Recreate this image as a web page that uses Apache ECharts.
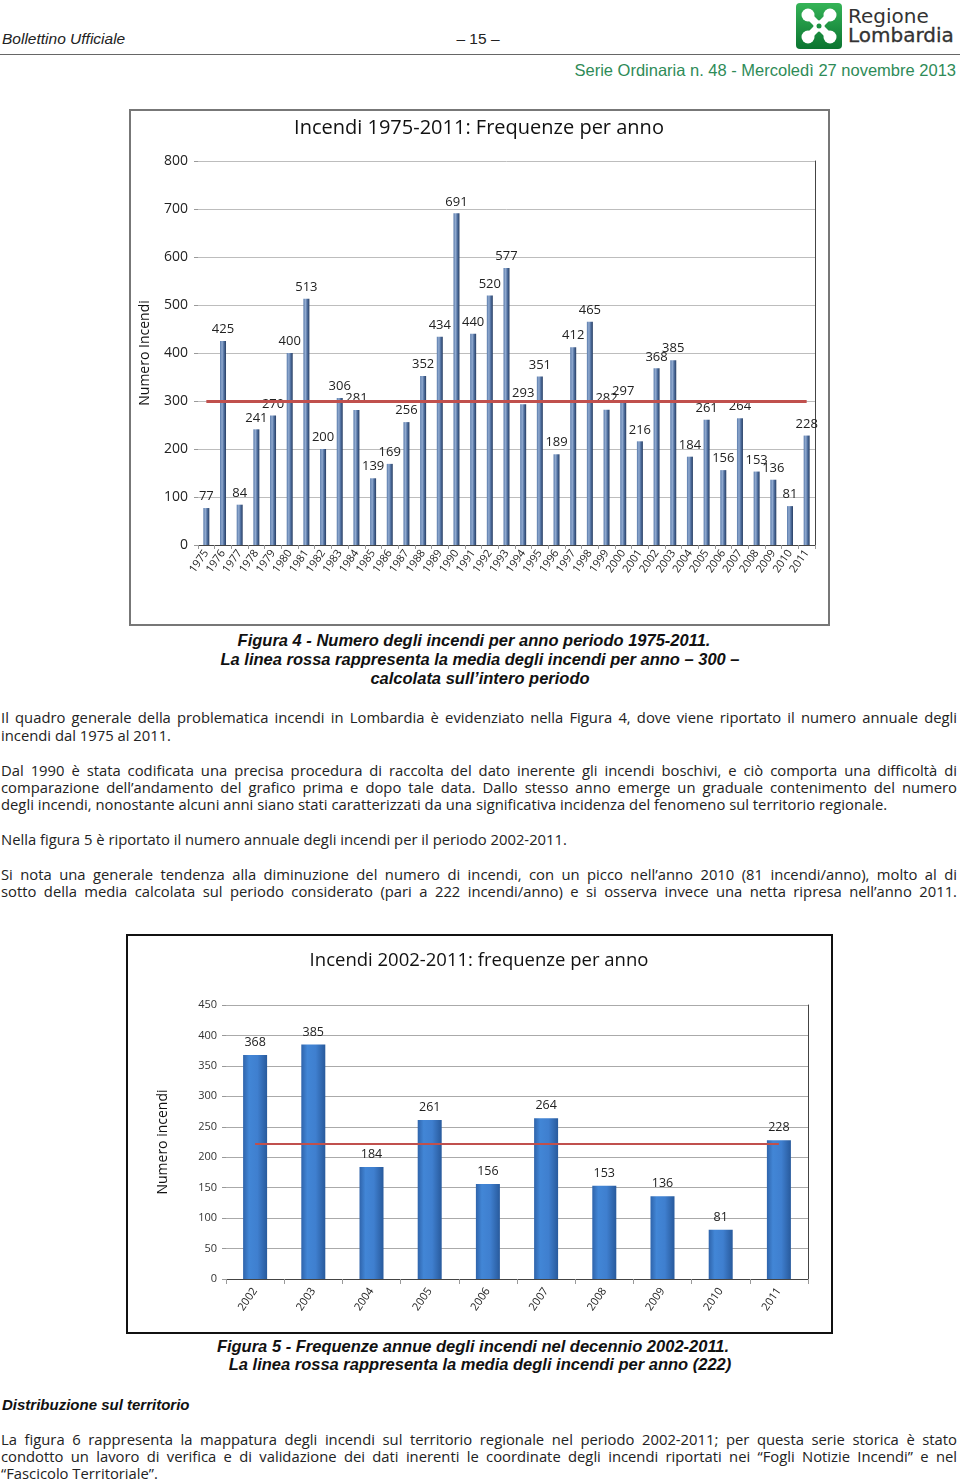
<!DOCTYPE html>
<html>
<head>
<meta charset="utf-8">
<script src="https://cdn.jsdelivr.net/npm/echarts@6/dist/echarts.min.js"></script>
<style>
  html, body { margin:0; padding:0; background:#fff; }
  #page { position:relative; width:960px; height:1481px; overflow:hidden; font-family:"Liberation Sans", Arial, sans-serif; color:#222; }
  .abs { position:absolute; white-space:nowrap; }
  .line { position:absolute; left:1px; width:956px; font-family:"Open Sans", "Liberation Sans", sans-serif; font-size:14.8px; line-height:17px; height:17px; color:#222; }
  .j { text-align:justify; text-align-last:justify; }
  .cap { position:absolute; left:0; width:960px; text-align:center; font-size:16.5px; line-height:18px; font-weight:bold; font-style:italic; color:#111; }
  .frame { position:absolute; box-sizing:border-box; pointer-events:none; }
</style>
</head>
<body>
<div id="page">
  <!-- header -->
  <div class="abs" style="left:2px;top:30px;font-size:15.5px;font-style:italic;color:#222;">Bollettino Ufficiale</div>
  <div class="abs" style="left:438px;width:80px;text-align:center;top:30px;font-size:15.5px;color:#222;">– 15 –</div>
  <svg style="position:absolute;left:795px;top:2px" width="48" height="48" viewBox="0 0 48 48">
    <defs>
      <linearGradient id="lg" x1="0" y1="0" x2="0" y2="1">
        <stop offset="0" stop-color="#35b457"/>
        <stop offset="1" stop-color="#0b7430"/>
      </linearGradient>
    </defs>
    <rect x="1" y="1" width="46" height="46" rx="4" fill="url(#lg)"/>
    <line x1="14" y1="14" x2="34" y2="34" stroke="#fff" stroke-width="7"/>
    <line x1="34" y1="14" x2="14" y2="34" stroke="#fff" stroke-width="7"/>
    <circle cx="13" cy="13" r="6.5" fill="#fff"/>
    <circle cx="35" cy="13" r="6.5" fill="#fff"/>
    <circle cx="13" cy="35" r="6.5" fill="#fff"/>
    <circle cx="35" cy="35" r="6.5" fill="#fff"/>
    <circle cx="24" cy="24" r="5.5" fill="#fff"/>
    <circle cx="24" cy="24" r="2.5" fill="#1a9040"/>
  </svg>
  <div class="abs" style="left:848px;top:5px;font-family:'DejaVu Sans',sans-serif;font-size:20px;line-height:22px;color:#333;">Regione</div>
  <div class="abs" style="left:848px;top:24px;font-family:'DejaVu Sans',sans-serif;font-size:20px;line-height:22px;color:#333;-webkit-text-stroke:0.3px #333;">Lombardia</div>
  <div style="position:absolute;left:0;top:54px;width:960px;height:1px;background:#666;"></div>
  <div class="abs" style="right:4px;top:61px;font-size:16.5px;color:#2e8b57;">Serie Ordinaria n. 48 - Mercoledì 27 novembre 2013</div>

  <!-- chart 1 -->
  <div id="chart1" style="position:absolute;left:129px;top:109px;width:700px;height:516px;"></div>
  <div class="frame" style="left:129px;top:109px;width:701px;height:517px;border:2px solid #777;"></div>

  <div class="cap" style="top:631px;left:-6px;">Figura 4 - Numero degli incendi per anno periodo 1975-2011.</div>
  <div class="cap" style="top:650px;">La linea rossa rappresenta la media degli incendi per anno – 300 –</div>
  <div class="cap" style="top:669px;">calcolata sull’intero periodo</div>

  <div class="line j" style="top:709px;">Il quadro generale della problematica incendi in Lombardia è evidenziato nella Figura 4, dove viene riportato il numero annuale degli</div>
  <div class="line" style="top:727px;">incendi dal 1975 al 2011.</div>

  <div class="line j" style="top:762px;">Dal 1990 è stata codificata una precisa procedura di raccolta del dato inerente gli incendi boschivi, e ciò comporta una difficoltà di</div>
  <div class="line j" style="top:779px;">comparazione dell’andamento del grafico prima e dopo tale data. Dallo stesso anno emerge un graduale contenimento del numero</div>
  <div class="line" style="top:796px;">degli incendi, nonostante alcuni anni siano stati caratterizzati da una significativa incidenza del fenomeno sul territorio regionale.</div>

  <div class="line" style="top:831px;">Nella figura 5 è riportato il numero annuale degli incendi per il periodo 2002-2011.</div>

  <div class="line j" style="top:866px;">Si nota una generale tendenza alla diminuzione del numero di incendi, con un picco nell’anno 2010 (81 incendi/anno), molto al di</div>
  <div class="line j" style="top:883px;">sotto della media calcolata sul periodo considerato (pari a 222 incendi/anno) e si osserva invece una netta ripresa nell’anno 2011.</div>

  <!-- chart 2 -->
  <div id="chart2" style="position:absolute;left:126px;top:934px;width:706px;height:399px;"></div>
  <div class="frame" style="left:126px;top:934px;width:707px;height:400px;border:2px solid #111;"></div>

  <div class="cap" style="top:1337px;left:-7px;">Figura 5 - Frequenze annue degli incendi nel decennio 2002-2011.</div>
  <div class="cap" style="top:1355px;">La linea rossa rappresenta la media degli incendi per anno (222)</div>

  <div class="abs" style="left:2px;top:1396px;font-size:15px;font-weight:bold;font-style:italic;color:#111;">Distribuzione sul territorio</div>

  <div class="line j" style="top:1431px;">La figura 6 rappresenta la mappatura degli incendi sul territorio regionale nel periodo 2002-2011; per questa serie storica è stato</div>
  <div class="line j" style="top:1448px;">condotto un lavoro di verifica e di validazione dei dati inerenti le coordinate degli incendi riportati nei “Fogli Notizie Incendi” e nel</div>
  <div class="line" style="top:1465px;">“Fascicolo Territoriale”.</div>
</div>

<script>
// ---------- data ----------
const years1 = ['1975','1976','1977','1978','1979','1980','1981','1982','1983','1984','1985','1986','1987','1988','1989','1990','1991','1992','1993','1994','1995','1996','1997','1998','1999','2000','2001','2002','2003','2004','2005','2006','2007','2008','2009','2010','2011'];
const fires1 = [77,425,84,241,270,400,513,200,306,281,139,169,256,352,434,691,440,520,577,293,351,189,412,465,282,297,216,368,385,184,261,156,264,153,136,81,228];
const mean1 = 300;
const title1 = 'Incendi 1975-2011: Frequenze per anno';
const yName1 = 'Numero Incendi';

const years2 = ['2002','2003','2004','2005','2006','2007','2008','2009','2010','2011'];
const fires2 = [368,385,184,261,156,264,153,136,81,228];
const mean2 = 222;
const title2 = 'Incendi 2002-2011: frequenze per anno';
const yName2 = 'Numero incendi';

const chartFont = '"Open Sans", "Liberation Sans", sans-serif';

// ---------- chart 1 ----------
const c1 = echarts.init(document.getElementById('chart1'), null, {renderer:'canvas'});
c1.setOption({
  animation: false,
  backgroundColor: '#fff',
  textStyle: { fontFamily: chartFont },
  title: { text: title1, left: 'center', top: 4, textStyle: { fontSize: 20, fontWeight: 'normal', color: '#111', fontFamily: chartFont } },
  grid: { left: 69, right: 14, top: 52, bottom: 80 },
  xAxis: [
    { type: 'category', data: years1, position: 'bottom',
      axisLine: { lineStyle: { color: '#999' } },
      axisTick: { show: true, length: 4, lineStyle: { color: '#999' } },
      axisLabel: { rotate: 55, fontSize: 11, color: '#222', margin: 6, interval: 0, fontFamily: chartFont } },
    { type: 'category', data: years1, position: 'top',
      axisLine: { show: true, lineStyle: { color: '#444' } },
      axisTick: { show: false }, axisLabel: { show: false } }
  ],
  yAxis: [
    { type: 'value', min: 0, max: 800, interval: 100,
      name: yName1, nameLocation: 'middle', nameRotate: 90, nameGap: 46,
      nameTextStyle: { fontSize: 14, color: '#111', fontFamily: chartFont },
      axisLine: { show: false },
      axisTick: { show: true, length: 4, lineStyle: { color: '#999' } },
      axisLabel: { fontSize: 14, color: '#222', margin: 10, fontFamily: chartFont },
      splitLine: { lineStyle: { color: '#bdbdbd' } } },
    { type: 'value', min: 0, max: 800, interval: 100, position: 'right',
      axisLine: { show: true, lineStyle: { color: '#444' } },
      axisTick: { show: false }, axisLabel: { show: false }, splitLine: { show: false } }
  ],
  series: [{
    type: 'bar', data: fires1, barWidth: 6, xAxisIndex: 0, yAxisIndex: 0,
    itemStyle: { color: new echarts.graphic.LinearGradient(0, 0, 1, 0, [
      { offset: 0, color: '#587aab' }, { offset: 0.35, color: '#92abd0' },
      { offset: 0.65, color: '#4f6f9f' }, { offset: 1, color: '#293f63' } ]) },
    label: { show: true, position: 'top', distance: 5, fontSize: 13, color: '#222', fontFamily: chartFont },
    markLine: {
      silent: true, symbol: ['none', 'none'], label: { show: false },
      lineStyle: { color: '#c0504d', width: 3, type: 'solid' },
      data: [[ { coord: [years1[0], mean1] }, { coord: [years1[years1.length - 1], mean1] } ]]
    }
  }]
});

// ---------- chart 2 ----------
const c2 = echarts.init(document.getElementById('chart2'), null, {renderer:'canvas'});
c2.setOption({
  animation: false,
  backgroundColor: '#fff',
  textStyle: { fontFamily: chartFont },
  title: { text: title2, left: 'center', top: 12, textStyle: { fontSize: 18.5, fontWeight: 'normal', color: '#111', fontFamily: chartFont } },
  grid: { left: 100, right: 24, top: 71, bottom: 54 },
  xAxis: [
    { type: 'category', data: years2, position: 'bottom',
      axisLine: { lineStyle: { color: '#999' } },
      axisTick: { show: true, length: 5, lineStyle: { color: '#999' } },
      axisLabel: { rotate: 55, fontSize: 11, color: '#222', margin: 10, interval: 0, fontFamily: chartFont } },
    { type: 'category', data: years2, position: 'top',
      axisLine: { show: true, lineStyle: { color: '#444' } },
      axisTick: { show: false }, axisLabel: { show: false } }
  ],
  yAxis: [
    { type: 'value', min: 0, max: 450, interval: 50,
      name: yName2, nameLocation: 'middle', nameRotate: 90, nameGap: 56,
      nameTextStyle: { fontSize: 14, color: '#111', fontFamily: chartFont },
      axisLine: { show: false },
      axisTick: { show: true, length: 4, lineStyle: { color: '#999' } },
      axisLabel: { fontSize: 11, color: '#333', margin: 9, fontFamily: chartFont },
      splitLine: { lineStyle: { color: '#aaaaaa' } } },
    { type: 'value', min: 0, max: 450, interval: 50, position: 'right',
      axisLine: { show: true, lineStyle: { color: '#444' } },
      axisTick: { show: false }, axisLabel: { show: false }, splitLine: { show: false } }
  ],
  series: [{
    type: 'bar', data: fires2, barWidth: 24, xAxisIndex: 0, yAxisIndex: 0,
    itemStyle: {
      color: new echarts.graphic.LinearGradient(0, 0, 1, 0, [
        { offset: 0, color: '#2f64ab' }, { offset: 0.25, color: '#4286d6' },
        { offset: 0.6, color: '#3f7fcf' }, { offset: 1, color: '#285a9c' } ])
    },
    label: { show: true, position: 'top', distance: 6, fontSize: 12.5, color: '#222', fontFamily: chartFont },
    markLine: {
      silent: true, symbol: ['none', 'none'], label: { show: false },
      lineStyle: { color: '#c0504d', width: 2, type: 'solid' },
      data: [[ { coord: [years2[0], mean2] }, { coord: [years2[years2.length - 1], mean2] } ]]
    }
  }]
});
</script>
</body>
</html>
